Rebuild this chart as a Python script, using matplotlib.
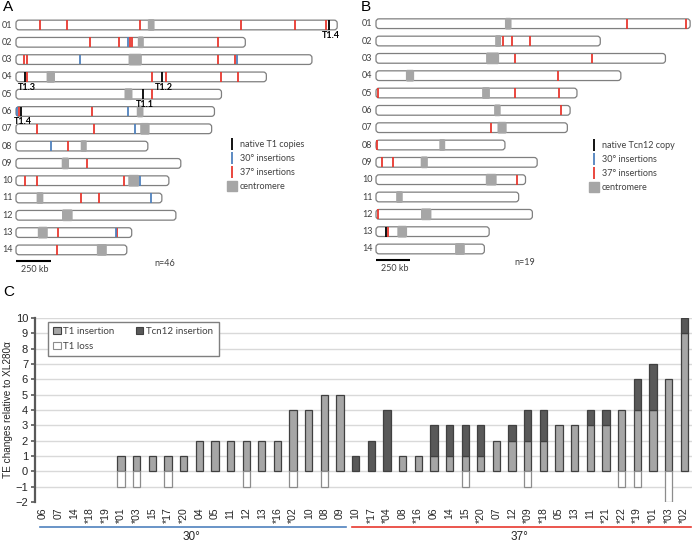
import matplotlib
matplotlib.use("Agg")
import matplotlib.pyplot as plt
import numpy as np
from matplotlib.lines import Line2D
from matplotlib.patches import FancyBboxPatch, Patch

# ---------------- genome layout (kb) ----------------
chrom_names = [f"{i:02d}" for i in range(1, 15)]
chrom_len_kb = [2290, 1635, 2110, 1785, 1465, 1415, 1395, 940, 1175, 1090, 1040, 1140, 825, 790]
cen_mid_kb = [964, 890, 850, 248, 802, 885, 919, 483, 352, 840, 171, 366, 191, 612]
cen_width_kb = [48, 43, 95, 60, 57, 48, 67, 43, 52, 79, 48, 76, 71, 71]

# panel A: T1 insertions per chromosome (kb)
a_red_kb = [[171, 362, 885, 1607, 1992, 2213], [528, 735, 812, 830, 1437], [57, 76, 1440, 1564],
            [76, 969, 1069, 1464, 1583], [969], [24, 545], [148, 557], [373], [509],
            [66, 148, 769], [462, 595], [], [300, 723], [293]]
a_blue_kb = [[], [798], [457, 1576], [], [], [9, 800], [848], [250], [], [885], [962], [], [714], []]
a_native_chrom = [0, 3, 3, 4, 5]
a_native_kb = [2235, 66, 1040, 905, 38]
a_native_names = ["T1.4", "T1.3", "T1.2", "T1.1", "T1.4"]

# panel B: Tcn12 insertions per chromosome (kb)
b_red_kb = [[1828, 2260], [926, 991, 1123], [1015, 1577], [1325], [12, 1013, 1336], [1351], [836],
            [9], [42, 124], [1026], [], [17], [87], []]
b_blue_kb = [[] for _ in range(14)]
b_native_chrom = [12]
b_native_kb = [73]

# panel C: TE changes per isolate
samples_30 = ["06", "07", "14", "*18", "*19", "*01", "*03", "15", "*17", "*20",
              "04", "05", "11", "12", "13", "*16", "*02", "10", "08", "09"]
t1_30 = [0, 0, 0, 0, 0, 1, 1, 1, 1, 1, 2, 2, 2, 2, 2, 2, 4, 4, 5, 5]
tcn_30 = [0] * 20
loss_30 = [0, 0, 0, 0, 0, -1, -1, 0, -1, 0, 0, 0, 0, -1, 0, 0, -1, 0, -1, 0]

samples_37 = ["10", "*17", "*04", "08", "*16", "06", "14", "15", "*20", "07", "12",
              "*09", "*18", "05", "13", "11", "*21", "*22", "*19", "*01", "*03", "*02"]
t1_37 = [0, 0, 0, 1, 1, 1, 1, 1, 1, 2, 2, 2, 2, 3, 3, 3, 3, 4, 4, 4, 6, 9]
tcn_37 = [1, 2, 4, 0, 0, 2, 2, 2, 2, 0, 1, 2, 2, 0, 0, 1, 1, 0, 2, 3, 0, 1]
loss_37 = [0, 0, 0, 0, 0, 0, 0, -1, 0, 0, 0, -1, 0, 0, 0, 0, 0, -1, -1, 0, -2, 0]

RED = "#e8382f"
BLUE = "#4f81bd"
CEN = "#a6a6a6"
OUTLINE = "#7f7f7f"
W, H = 698, 542

plt.rcParams["font.family"] = ["Lato", "DejaVu Sans"]
fig = plt.figure(figsize=(W / 100, H / 100), dpi=100)


def px_axes(x0, y0, x1, y1):
    return fig.add_axes([x0 / W, 1 - y1 / H, (x1 - x0) / W, (y1 - y0) / H])


def chrom_panel(ax, origin_px, kb_per_px, row0_px, row_px, ax_px, red, blue, nat_chrom, nat_kb):
    ax.set_xlim((ax_px[0] - origin_px) * kb_per_px, (ax_px[2] - origin_px) * kb_per_px)
    ax.set_ylim((ax_px[3] - row0_px) / row_px, (ax_px[1] - row0_px) / row_px)
    ax.axis("off")
    aspect = (1 / row_px) / kb_per_px
    r = 3 * kb_per_px
    h, hc = 0.56, 0.68
    for i, L in enumerate(chrom_len_kb):
        ax.add_patch(FancyBboxPatch((0, i - h / 2), L, h, boxstyle=f"round,pad=0,rounding_size={r}",
                                    mutation_aspect=aspect, fc="white", ec=OUTLINE, lw=0.9, zorder=1))
        ax.add_patch(FancyBboxPatch((cen_mid_kb[i] - cen_width_kb[i] / 2, i - hc / 2), cen_width_kb[i], hc,
                                    boxstyle=f"round,pad=0,rounding_size={1.5 * kb_per_px}",
                                    mutation_aspect=aspect, fc=CEN, ec="none", zorder=2))
        ax.text(-25, i, chrom_names[i], ha="right", va="center", fontsize=6.5, color="#404040")
        if red[i]:
            ax.vlines(red[i], i - h / 2, i + h / 2, color=RED, lw=1.3, zorder=3)
        if blue[i]:
            ax.vlines(blue[i], i - h / 2, i + h / 2, color=BLUE, lw=1.3, zorder=3)
    for c, k in zip(nat_chrom, nat_kb):
        ax.vlines(k, c - h / 2, c + h / 2, color="black", lw=1.3, zorder=4)
    # scale bar
    ax.plot([0, 250], [13.62, 13.62], color="black", lw=1.5, solid_capstyle="butt")
    ax.text(135, 14.15, "250 kb", ha="center", va="center", fontsize=6.5, color="#404040")


# ---------------- panel A ----------------
axA = px_axes(0, 6, 345, 276)
chrom_panel(axA, 16, 7.13, 25, 17.3, (0, 6, 345, 276), a_red_kb, a_blue_kb, a_native_chrom, a_native_kb)
for c, k, name in zip(a_native_chrom, a_native_kb, a_native_names):
    axA.text(k + 12, c + 0.6, name, ha="center", va="center", fontsize=6.5, fontweight="bold")
axA.text(1062, 13.76, "n=46", ha="center", va="center", fontsize=6.5, color="#404040")

# ---------------- panel B ----------------
axB = px_axes(350, 6, 698, 276)
chrom_panel(axB, 376, 7.29, 23.7, 17.33, (350, 6, 698, 276), b_red_kb, b_blue_kb, b_native_chrom, b_native_kb)
axB.text(1086, 13.8, "n=19", ha="center", va="center", fontsize=6.5, color="#404040")


def chrom_legend(ax, first_label, anchor):
    handles = [Line2D([], [], color=col, marker="|", ls="None", ms=8, mew=1.3) for col in ("black", BLUE, RED)]
    handles.append(Line2D([], [], color=CEN, marker="s", ls="None", ms=7))
    ax.legend(handles, [first_label, "30° insertions", "37° insertions", "centromere"],
              loc="upper left", bbox_to_anchor=anchor, bbox_transform=fig.transFigure,
              frameon=False, fontsize=6.5, handlelength=0.6, handletextpad=0.6,
              labelspacing=0.55, borderpad=0, borderaxespad=0, labelcolor="#404040")


chrom_legend(axA, "native T1 copies", (229 / W, 1 - 140 / H))
chrom_legend(axB, "native Tcn12 copy", (591 / W, 1 - 141 / H))

# ---------------- panel C ----------------
axC = px_axes(35, 318, 692, 502)
samples = samples_30 + samples_37
t1 = np.array(t1_30 + t1_37)
tcn = np.array(tcn_30 + tcn_37)
loss = np.array(loss_30 + loss_37)
x = np.arange(len(samples))
bw = 0.47

m = t1 > 0
axC.bar(x[m], t1[m], width=bw, color=CEN, edgecolor="#404040", lw=0.9, zorder=3)
m = tcn > 0
axC.bar(x[m], tcn[m], bottom=t1[m], width=bw, color="#595959", edgecolor="#404040", lw=0.9, zorder=3)
m = loss < 0
axC.bar(x[m], loss[m], width=bw, color="white", edgecolor="#8c8c8c", lw=0.9, zorder=3)

axC.set_xlim(-0.5, len(samples) - 0.5)
axC.set_ylim(-2, 10)
axC.set_yticks(range(-2, 11))
axC.set_xticks(x)
axC.set_xticklabels(samples, rotation=90, family="Liberation Sans", fontsize=7.5, color="#262626")
for lbl in axC.get_yticklabels():
    lbl.set_family("Liberation Sans")
axC.tick_params(axis="y", labelsize=8, colors="#262626", length=3, width=1.2, color="#595959", pad=2)
axC.tick_params(axis="x", length=0, pad=4)
axC.yaxis.grid(True, color="#d9d9d9", lw=1)
axC.get_ygridlines()[0].set_visible(False)
axC.set_axisbelow(True)
for s in ("top", "right", "bottom"):
    axC.spines[s].set_visible(False)
axC.spines["left"].set_color("#595959")
axC.spines["left"].set_linewidth(1.6)
axC.set_ylabel("TE changes relative to XL280α", family="Liberation Sans", fontsize=7.2,
               color="#262626")
axC.yaxis.set_label_coords(-0.034, 0.5)

trans = axC.get_xaxis_transform()
n30 = len(samples_30)
axC.plot([-0.18, n30 - 0.62], [-0.136, -0.136], transform=trans, color=BLUE, lw=1.2, clip_on=False)
axC.plot([n30 - 0.23, len(samples) - 0.56], [-0.136, -0.136], transform=trans, color=RED, lw=1.2, clip_on=False)
axC.text((n30 - 1) / 2, -0.19, "30°", transform=trans, ha="center", va="center",
         family="Liberation Sans", fontsize=8.5, color="#262626")
axC.text(n30 + (len(samples_37) - 1) / 2, -0.19, "37°", transform=trans, ha="center", va="center",
         family="Liberation Sans", fontsize=8.5, color="#262626")

leg_handles = [Patch(fc=CEN, ec="#404040", lw=0.8), Patch(fc="white", ec="#8c8c8c", lw=0.8),
               Patch(fc="#595959", ec="#404040", lw=0.8)]
leg = axC.legend(leg_handles, ["T1 insertion", "T1 loss", "Tcn12 insertion"], ncol=2,
                 loc="upper left", bbox_to_anchor=(8 / 657, 1.005), fontsize=7,
                 fancybox=False, edgecolor="#7f7f7f", framealpha=1, handlelength=0.75,
                 handleheight=0.75, handletextpad=0.3, columnspacing=2.2, labelspacing=0.6,
                 borderpad=0.55, labelcolor="#404040")
leg.get_frame().set_linewidth(1.0)

# panel letters
for letter, px, py in (("A", 3, 11), ("B", 361, 11), ("C", 3, 296)):
    fig.text(px / W, 1 - py / H, letter, fontsize=11, family="Liberation Sans", va="baseline")

fig.savefig("out.png", dpi=100)
